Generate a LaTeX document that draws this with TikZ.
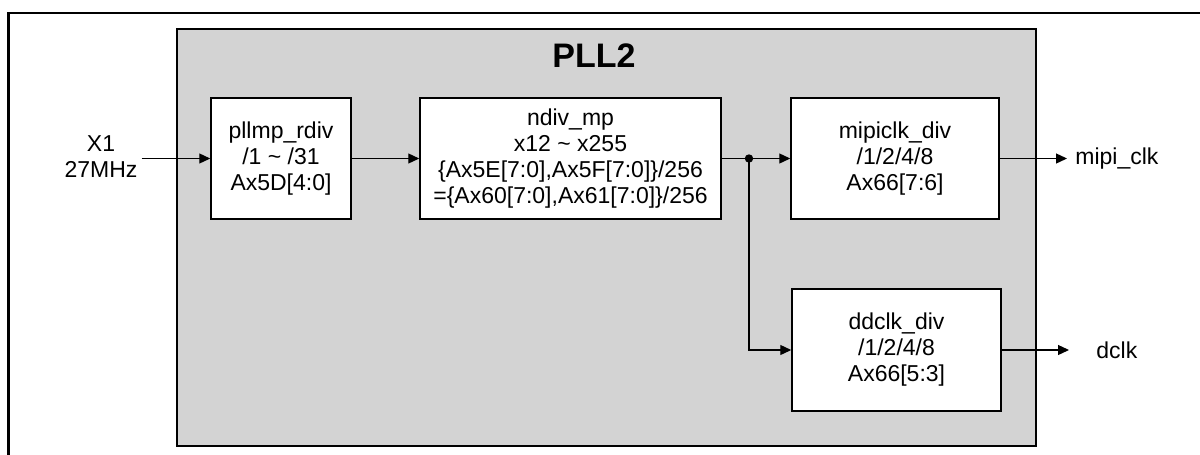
\documentclass[tikz,border=0pt]{standalone}
\usepackage{fontspec}
\setmainfont{Liberation Sans}
\usetikzlibrary{arrows.meta}
\definecolor{pllgray}{HTML}{D3D3D3}

\tikzset{
  divbox/.style={draw, fill=white, line width=0.75pt, align=center, inner sep=0pt,
    minimum height=60.5pt, font=\fontsize{11.5}{13}\selectfont},
  sig/.style={line width=0.65pt, -{Triangle[length=5.5pt,width=5pt]}},
  wire/.style={line width=0.65pt},
  pinlabel/.style={align=center, inner sep=0pt, font=\fontsize{11.5}{13}\selectfont}
}

\begin{document}
\begin{tikzpicture}[x=0.5pt,y=-0.5pt]
  \useasboundingbox (0,0) rectangle (1200,455);
  % Outer frame (only top and left edges are in view)
  \draw[line width=1.1pt] (8.5,470) -- (8.5,12.7) -- (1220,12.7);

  % PLL2 block
  \draw[line width=1pt, fill=pllgray] (177,29) rectangle (1035.5,446);
  \node[font=\bfseries\fontsize{17}{20}\selectfont] (title) at (594,56) {PLL2};

  % Dividers
  \node[divbox, minimum width=70pt] (rdiv) at (281,158.5)
    {pllmp\_rdiv\\/1 \char`~\ /31\\Ax5D[4:0]};
  \node[divbox, minimum width=150.5pt] (ndiv) at (570.5,158.5)
    {ndiv\_mp\\x12 \char`~\ x255\\\{Ax5E[7:0],Ax5F[7:0]\}/256\\=\{Ax60[7:0],Ax61[7:0]\}/256};
  \node[divbox, minimum width=104pt] (mipidiv) at (895,158.5)
    {mipiclk\_div\\/1/2/4/8\\Ax66[7:6]};
  \node[divbox, minimum width=104.5pt, minimum height=61pt] (ddclkdiv) at (896.5,350)
    {ddclk\_div\\/1/2/4/8\\Ax66[5:3]};

  % Input and outputs
  \node[pinlabel] (x1) at (101,157) {X1\\27MHz};
  \coordinate (x1out) at (141.5,158.5);
  \coordinate (split) at (749,158.5);
  \coordinate (mipiend) at (1067,158.5);
  \coordinate (dclkend) at (1069,350);
  \node[pinlabel, anchor=west] (mipiclk) at (1075,158.5) {mipi\_clk};
  \node[pinlabel, anchor=west] (dclk) at (1096,350) {dclk};

  % Connections
  \draw[sig] (x1out) -- (rdiv.west);
  \draw[sig] (rdiv.east) -- (ndiv.west);
  \draw[wire] (ndiv.east) -- (split);
  \fill (split) circle (2.1pt);
  \draw[sig] (split) -- (mipidiv.west);
  \draw[sig] (split) |- (ddclkdiv.west);
  \draw[sig] (mipidiv.east) -- (mipiend);
  \draw[sig] (ddclkdiv.east) -- (dclkend);
\end{tikzpicture}
\end{document}
